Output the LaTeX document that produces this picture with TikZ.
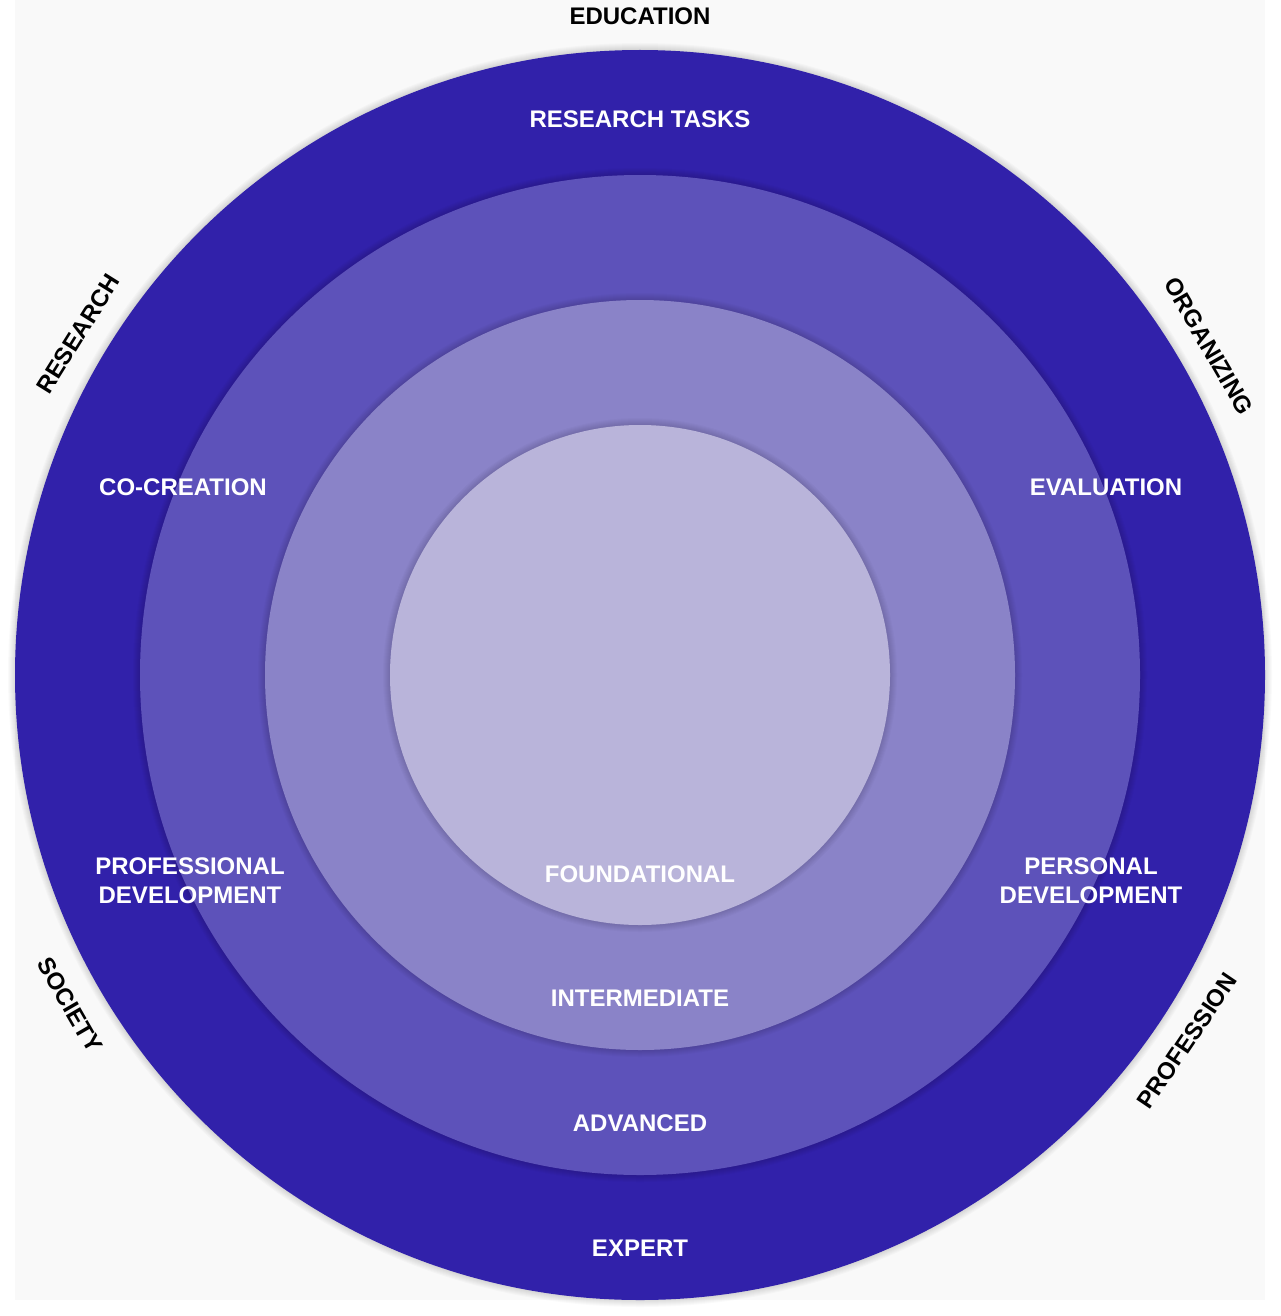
\documentclass[tikz,border=0pt]{standalone}
\usepackage{fontspec}
\setmainfont{Liberation Sans}
\definecolor{ringA}{HTML}{3121AA}
\definecolor{ringB}{HTML}{5D52BA}
\definecolor{ringC}{HTML}{8A83C8}
\definecolor{ringD}{HTML}{B9B4DA}
\definecolor{panel}{HTML}{F9F9F9}
\tikzset{
  lvl/.style={text=white,font=\bfseries\fontsize{24}{29}\selectfont,align=center,inner sep=0pt},
  dom/.style={text=black,font=\bfseries\fontsize{24}{29}\selectfont,inner sep=0pt},
}
\newcommand{\ringshadow}[1]{%
  \foreach \d in {1,2,...,7} {\fill[black,opacity=0.018] (640,675) circle[radius=#1+\d];}}
\begin{document}
\begin{tikzpicture}[x=1pt,y=-1pt]
  \useasboundingbox (0,0) rectangle (1280,1316);
  \fill[white] (0,0) rectangle (1280,1316);
  \fill[panel] (15,0) rectangle (1265,1300);
  % rings, outside in
  \ringshadow{625}
  \fill[ringA] (640,675) circle[radius=625];
  \ringshadow{500}
  \fill[ringB] (640,675) circle[radius=500];
  \ringshadow{375}
  \fill[ringC] (640,675) circle[radius=375];
  \ringshadow{250}
  \fill[ringD] (640,675) circle[radius=250];
  % level labels
  \node[lvl] (tasks) at (640,119) {RESEARCH TASKS};
  \node[lvl] (cocreation) at (183,487) {CO-CREATION};
  \node[lvl] (evaluation) at (1106,487) {EVALUATION};
  \node[lvl] (profdev) at (190,881) {PROFESSIONAL\\DEVELOPMENT};
  \node[lvl] (persdev) at (1091,881) {PERSONAL\\DEVELOPMENT};
  \node[lvl] (found) at (640,874) {FOUNDATIONAL};
  \node[lvl] (inter) at (640,998) {INTERMEDIATE};
  \node[lvl] (adv) at (640,1123) {ADVANCED};
  \node[lvl] (expert) at (640,1248) {EXPERT};
  % domain labels round the outside
  \node[dom] (education) at (640,16) {EDUCATION};
  \node[dom,rotate=58] (research) at (78,334) {RESEARCH};
  \node[dom,rotate=-60] (organizing) at (1209,346) {ORGANIZING};
  \node[dom,rotate=-60] (society) at (70,1005) {SOCIETY};
  \node[dom,rotate=56] (profession) at (1187,1041) {PROFESSION};
\end{tikzpicture}
\end{document}
